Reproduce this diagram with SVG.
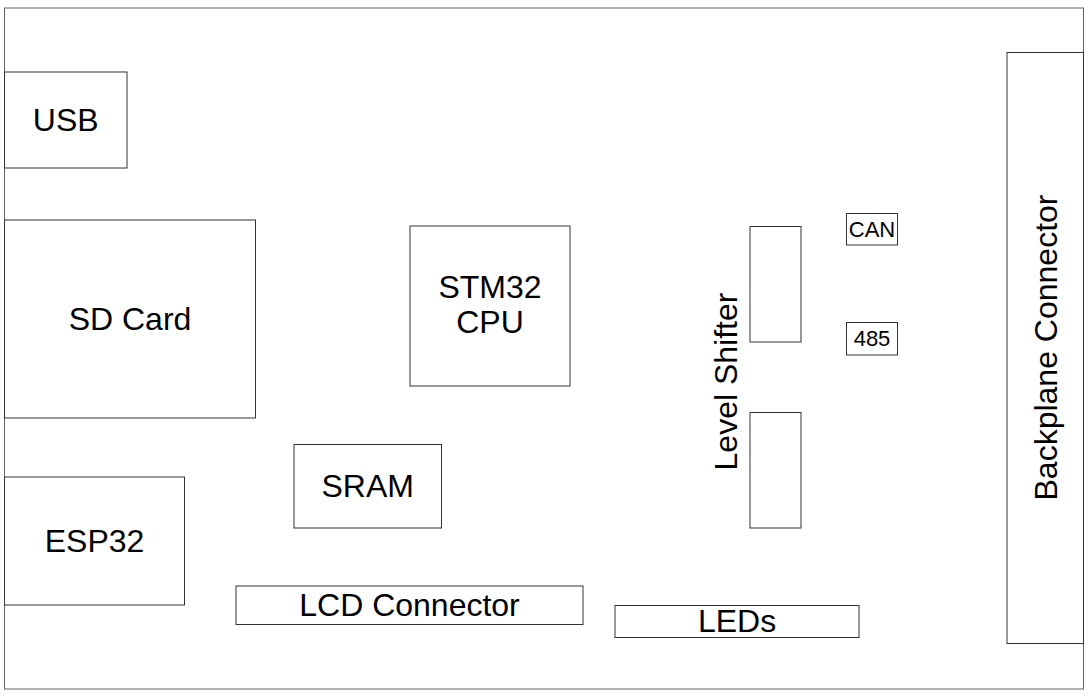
<svg xmlns="http://www.w3.org/2000/svg" width="1089" height="696" viewBox="0 0 1089 696">
<style>
rect{fill:#fff;stroke:#333;stroke-width:1}
text{font-family:"Liberation Sans",Arial,sans-serif;font-size:32px;fill:#000;text-anchor:middle}
.s{font-size:22px}
</style>
<rect id="board" x="4.5" y="8" width="1079" height="681" style="stroke:#666"/>
<g id="usb"><rect x="4.5" y="72" width="122.5" height="96"/><text x="65.7" y="131.3">USB</text></g>
<g id="sdcard"><rect x="4.5" y="220" width="251" height="198"/><text x="130" y="330.3">SD Card</text></g>
<g id="stm32"><rect x="410" y="226" width="160" height="160"/><text x="490" y="297.5">STM32</text><text x="490" y="333">CPU</text></g>
<g id="sram"><rect x="294" y="444.5" width="147.5" height="83.5"/><text x="367.7" y="497">SRAM</text></g>
<g id="esp32"><rect x="4.5" y="477" width="180" height="128"/><text x="94.5" y="552.3">ESP32</text></g>
<g id="lcd"><rect x="236" y="586" width="347" height="38.5"/><text x="409.5" y="616.3">LCD Connector</text></g>
<g id="leds"><rect x="615" y="605.5" width="244" height="32"/><text x="737" y="632.3">LEDs</text></g>
<g id="levelshifter">
<rect x="750" y="226.5" width="51" height="115.5"/>
<rect x="750" y="412.5" width="51" height="115.5"/>
<text transform="translate(736.5,381.5) rotate(-90)">Level Shifter</text>
</g>
<g id="can"><rect x="846.5" y="213.5" width="51" height="31.5"/><text class="s" x="872" y="237">CAN</text></g>
<g id="rs485"><rect x="846.5" y="322.5" width="51" height="32.5"/><text class="s" x="872" y="346.4">485</text></g>
<g id="backplane"><rect x="1007" y="52.5" width="76.5" height="591"/><text transform="translate(1057,347.5) rotate(-90)">Backplane Connector</text></g>
<g id="connectors"/>
</svg>
